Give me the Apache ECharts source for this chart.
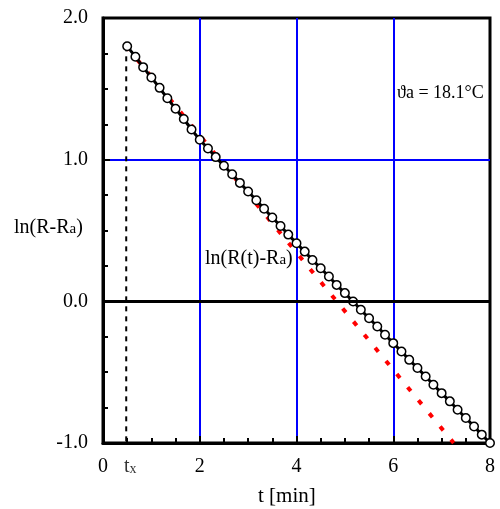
<!DOCTYPE html>
<html><head><meta charset="utf-8">
<script src="https://cdn.jsdelivr.net/npm/echarts@6/dist/echarts.min.js"></script>
<style>html,body{margin:0;padding:0;background:#fff}#c{width:500px;height:509px}</style>
</head><body><div id="c"></div>
<script>
// Measured data: ln(R(t)-Ra) vs time t [min]
const tValues = [0.50,0.67,0.83,1.00,1.17,1.33,1.50,1.67,1.83,2.00,
  2.17,2.33,2.50,2.67,2.83,3.00,3.17,3.33,3.50,3.67,3.83,4.00,
  4.17,4.33,4.50,4.67,4.83,5.00,5.17,5.33,5.50,5.67,5.83,6.00,
  6.17,6.33,6.50,6.67,6.83,7.00,7.17,7.33,7.50,7.67,7.83,8.00];
const lnValues = [1.80,1.727,1.653,1.580,1.507,1.433,1.360,1.287,1.213,1.140,
  1.079,1.018,0.957,0.897,0.836,0.775,0.714,0.653,0.592,0.532,0.471,0.410,
  0.351,0.292,0.234,0.175,0.116,0.058,-0.001,-0.060,-0.119,-0.178,-0.236,-0.295,
  -0.354,-0.413,-0.471,-0.530,-0.589,-0.648,-0.706,-0.765,-0.824,-0.883,-0.941,-1.000];
// Initial linear extrapolation (red dotted)
const tangentT = [0.48, 7.25];
const tangentV = [1.80, -1.00];
// tx marker
const tx = 0.48;
const txTop = 1.80;
const yMin = -1.0, yMax = 2.0;
const xTicks = [0, 2, 4, 6, 8];
const yTicks = [-1.0, 0.0, 1.0, 2.0];
const tempLabel = 'ϑa = 18.1°C';

const FONT = 'Liberation Serif';
const chart = echarts.init(document.getElementById('c'));
chart.setOption({
  animation: false,
  backgroundColor: '#fff',
  grid: {left: 103, right: 10, top: 18, bottom: 66, show: true, borderColor: '#000', borderWidth: 3, backgroundColor: 'transparent'},
  xAxis: {
    type: 'value', min: xTicks[0], max: xTicks[xTicks.length-1], interval: 2,
    axisLine: {show: true, onZero: false, lineStyle: {color: '#000', width: 3}},
    axisTick: {show: true, inside: true, length: 7, lineStyle: {color: '#000', width: 2}},
    minorTick: {show: true, splitNumber: 4, length: 5, lineStyle: {color: '#000', width: 2}},
    axisLabel: {color: '#000', fontFamily: FONT, fontSize: 20, margin: 14},
    splitLine: {show: true, showMinLine: false, showMaxLine: false, lineStyle: {color: '#0000ff', width: 2}}
  },
  yAxis: {
    type: 'value', min: yMin, max: yMax, interval: 1,
    axisLine: {show: true, onZero: false, lineStyle: {color: '#000', width: 3}},
    axisTick: {show: true, inside: true, length: 7, lineStyle: {color: '#000', width: 2}},
    minorTick: {show: true, splitNumber: 4, length: 5, lineStyle: {color: '#000', width: 2}},
    axisLabel: {color: '#000', fontFamily: FONT, fontSize: 20, margin: 15, formatter: v => v.toFixed(1)},
    splitLine: {show: true, showMinLine: false, showMaxLine: false, lineStyle: {color: '#0000ff', width: 2}}
  },
  series: [
    {
      type: 'line', data: [[tx, txTop], [tx, yMin]], symbol: 'none', silent: true, z: 2,
      lineStyle: {color: '#000', width: 2, type: [5, 5]},
      markLine: {silent: true, symbol: 'none', label: {show: false}, lineStyle: {color: '#000', width: 3, type: 'solid'}, data: [{yAxis: 0}]}
    },
    {
      type: 'line', data: tangentT.map((t, i) => [t, tangentV[i]]), symbol: 'none', z: 3,
      lineStyle: {color: '#ff0000', width: 4, type: [5, 12]}
    },
    {
      type: 'line', data: tValues.map((t, i) => [t, lnValues[i]]), z: 4,
      symbol: 'circle', symbolSize: 8.5, showAllSymbol: true,
      itemStyle: {color: '#fff', borderColor: '#000', borderWidth: 1.5},
      lineStyle: {color: '#000', width: 3}
    },
    {
      type: 'scatter', data: [[tx, yMin]], symbolSize: 0, z: 5,
      label: {show: true, position: 'bottom', distance: 14, offset: [4, 0], formatter: 't{s|x}', color: '#000', fontFamily: FONT, fontSize: 20,
        rich: {s: {fontSize: 14, fontFamily: FONT, color: '#000', padding: [4, 0, 0, 0]}}}
    }
  ],
  graphic: [
    {type: 'text', left: 14, top: 218, style: {text: 'ln(R-R{s|a})', fill: '#000', font: '20px "Liberation Serif"',
      rich: {s: {fontSize: 15, fontFamily: FONT, fill: '#000', padding: [2, 0, 0, 0]}}}},
    {type: 'text', left: 205, top: 249, style: {text: 'ln(R(t)-R{s|a})', fill: '#000', font: '20px "Liberation Serif"',
      rich: {s: {fontSize: 15, fontFamily: FONT, fill: '#000', padding: [2, 0, 0, 0]}}}},
    {type: 'text', left: 397, top: 84, style: {text: tempLabel, fill: '#000', font: '18px "Liberation Serif"'}},
    {type: 'text', left: 258, top: 486, style: {text: 't [min]', fill: '#000', font: '21px "Liberation Serif"'}}
  ]
});
</script></body></html>
